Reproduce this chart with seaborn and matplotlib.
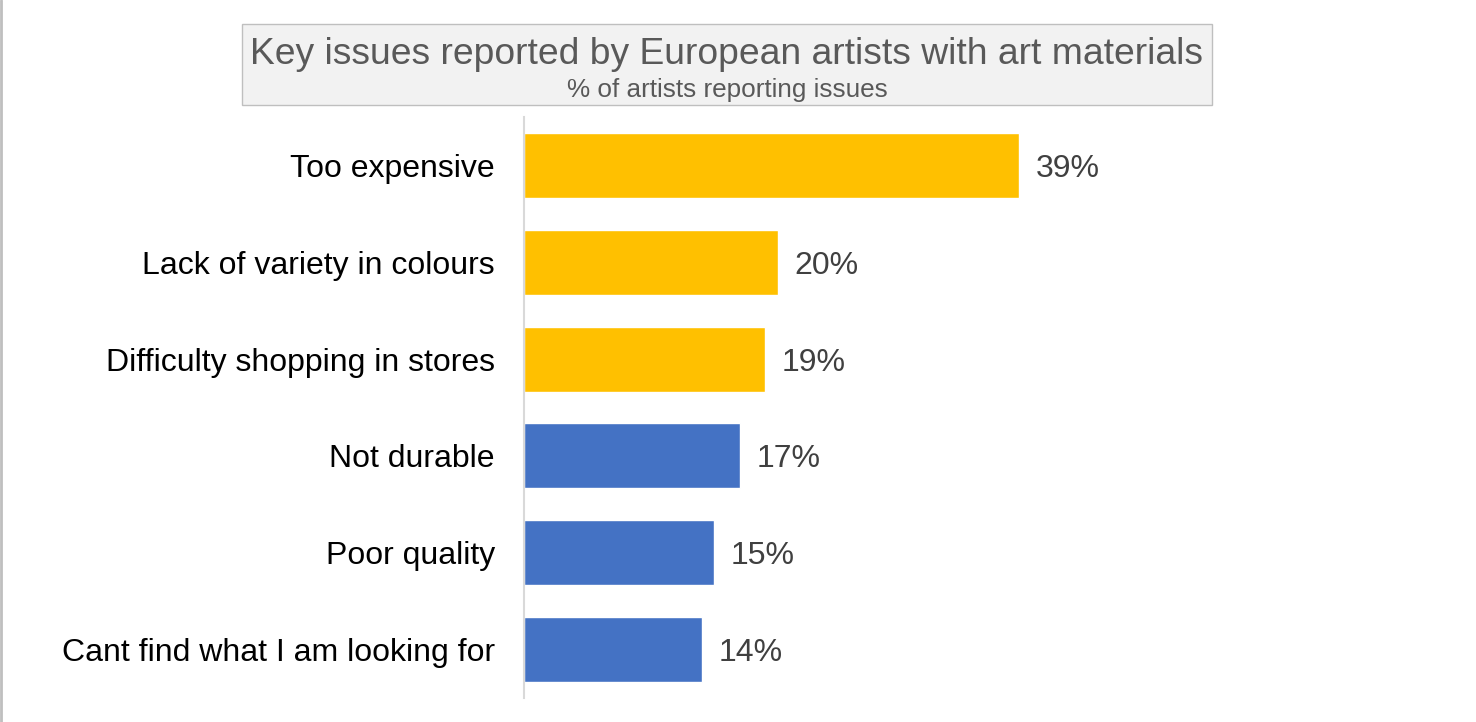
import matplotlib
matplotlib.use("Agg")
import matplotlib.pyplot as plt
import seaborn as sns
import pandas as pd
from matplotlib.patches import Rectangle

categories = [
    "Too expensive",
    "Lack of variety in colours",
    "Difficulty shopping in stores",
    "Not durable",
    "Poor quality",
    "Cant find what I am looking for",
]
values = [39, 20, 19, 17, 15, 14]
groups = ["top", "top", "top", "other", "other", "other"]
group_colors = {"top": "#FFC000", "other": "#4472C4"}

title = "Key issues reported by European artists with art materials"
subtitle = "% of artists reporting issues"

sns.set_theme(style="white")
plt.rcParams["font.family"] = ["Liberation Sans", "DejaVu Sans"]

W, H = 1476, 722
fig = plt.figure(figsize=(W / 100, H / 100), dpi=100)
fig.patch.set_facecolor("white")

# axes placed in pixel terms
ax_left, ax_right, ax_top, ax_bottom = 524, 1400, 117, 698
ax = fig.add_axes([ax_left / W, 1 - ax_bottom / H,
                   (ax_right - ax_left) / W, (ax_bottom - ax_top) / H])

df = pd.DataFrame({"category": categories, "value": values, "group": groups})
sns.barplot(data=df, y="category", x="value", hue="group", palette=group_colors,
            order=categories, dodge=False, width=0.67, legend=False, ax=ax,
            saturation=1)

px_per_unit = 12.69
ax.set_xlim(0, (ax_right - ax_left) / px_per_unit)
ax.set_ylim(len(categories) - 0.5, -0.5)

for i, v in enumerate(values):
    ax.annotate(f"{v}%", xy=(v, i), xytext=(12, 0), textcoords="offset points",
                va="center_baseline", ha="left", fontsize=23, color="#404040")

ax.set_xlabel("")
ax.set_ylabel("")
ax.set_xticks([])
ax.tick_params(axis="y", length=0, pad=21, labelsize=23, labelcolor="black")
for s in ["top", "right", "bottom"]:
    ax.spines[s].set_visible(False)
ax.spines["left"].set_color("#d9d9d9")
ax.spines["left"].set_linewidth(1.5)
ax.set_facecolor("none")

# title box
bx0, bx1, by0, by1 = 242, 1212, 24, 105
fig.patches.append(Rectangle((bx0 / W, 1 - by1 / H), (bx1 - bx0) / W, (by1 - by0) / H,
                             transform=fig.transFigure, facecolor="#f2f2f2",
                             edgecolor="#bfbfbf", linewidth=1))
cx = (bx0 + bx1) / 2 / W
fig.text(cx, 1 - 54 / H, title, ha="center", va="center", fontsize=26.8, color="#595959")
fig.text(cx, 1 - 90 / H, subtitle, ha="center", va="center", fontsize=18.8, color="#595959")

# thin left frame line
fig.lines.append(plt.Line2D([0.5 / W, 0.5 / W], [0, 1], transform=fig.transFigure,
                            color="#bfbfbf", linewidth=2))

fig.savefig("out.png", dpi=100)
